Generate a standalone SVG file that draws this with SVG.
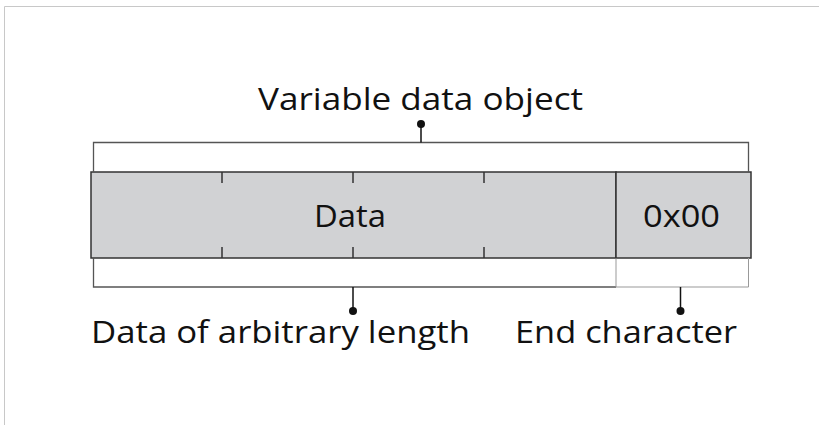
<svg xmlns="http://www.w3.org/2000/svg" width="819" height="425" viewBox="0 0 819 425">
<style>
text{font-family:"Open Sans","DejaVu Sans",sans-serif;fill:#111;}
.lbl{font-size:31px;}
.box{fill:#d1d2d4;stroke:#333;stroke-width:1.5;}
.tick{stroke:#333;stroke-width:1.5;}
.br{fill:none;stroke:#555;stroke-width:1.3;}
.br2{fill:none;stroke:#999;stroke-width:1;}
.stem{stroke:#111;stroke-width:1.5;}
.dot{fill:#111;}
</style>
<rect width="819" height="425" fill="#fff"/>
<path d="M4.5 425V6.5H819" fill="none" stroke="#c8c8c8" stroke-width="1"/>
<g id="data-box">
<rect class="box" x="91" y="172" width="525" height="86"/>
<path class="tick" d="M222 172v11M222 247v11M353 172v11M353 247v11M484 172v11M484 247v11"/>
<text class="lbl" x="314" y="227" textLength="72" lengthAdjust="spacingAndGlyphs">Data</text>
</g>
<g id="end-box">
<rect class="box" x="616" y="172" width="135" height="86"/>
<text class="lbl" x="643" y="227" textLength="77" lengthAdjust="spacingAndGlyphs">0x00</text>
</g>
<g id="connectors">
<path class="br" d="M93.5 172V142.5H748.5V172"/>
<path class="br" d="M93.5 258V287H616"/>
<path class="br2" d="M616 258V287H748.5V258"/>
<line class="stem" x1="421" y1="142.5" x2="421" y2="124"/>
<circle class="dot" cx="421" cy="124" r="4"/>
<line class="stem" x1="353" y1="287" x2="353" y2="311"/>
<circle class="dot" cx="353" cy="311" r="4"/>
<line class="stem" x1="680.5" y1="287" x2="680.5" y2="311"/>
<circle class="dot" cx="680.5" cy="311" r="4"/>
</g>
<g id="label-top"><text class="lbl" x="258" y="110" textLength="325" lengthAdjust="spacingAndGlyphs">Variable data object</text></g>
<g id="label-data"><text class="lbl" x="91" y="343" textLength="379" lengthAdjust="spacingAndGlyphs">Data of arbitrary length</text></g>
<g id="label-end"><text class="lbl" x="515" y="343" textLength="222" lengthAdjust="spacingAndGlyphs">End character</text></g>
</svg>
